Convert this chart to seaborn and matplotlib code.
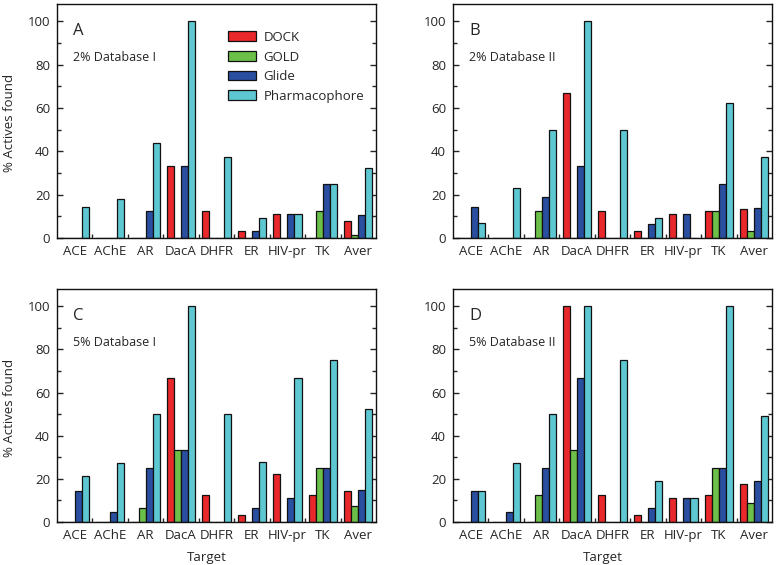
import matplotlib
matplotlib.use("Agg")
import matplotlib.pyplot as plt
import numpy as np
import pandas as pd
import seaborn as sns
from matplotlib.ticker import FixedLocator, MultipleLocator

targets = ["ACE", "AChE", "AR", "DacA", "DHFR", "ER", "HIV-pr", "TK", "Aver"]
methods = ["DOCK", "GOLD", "Glide", "Pharmacophore"]
colors = ["#e8282b", "#6cc04a", "#2a4fa0", "#5ec8d2"]

# panel A: 2% Database I
a_dock = [0, 0, 0, 33.3, 12.5, 3.2, 11.1, 0, 7.9]
a_gold = [0, 0, 0, 0, 0, 0, 0, 12.5, 1.3]
a_glide = [0, 0, 12.5, 33.3, 0, 3.2, 11.1, 25.0, 10.5]
a_pharm = [14.3, 18.2, 44.0, 100, 37.5, 9.1, 11.1, 25.0, 32.3]

# panel B: 2% Database II
b_dock = [0, 0, 0, 66.7, 12.5, 3.2, 11.1, 12.5, 13.2]
b_gold = [0, 0, 12.5, 0, 0, 0, 0, 12.5, 3.1]
b_glide = [14.3, 0, 18.8, 33.3, 0, 6.5, 11.1, 25.0, 13.8]
b_pharm = [7.1, 22.9, 50.0, 100, 50.0, 9.1, 0, 62.5, 37.5]

# panel C: 5% Database I
c_dock = [0, 0, 0, 66.7, 12.5, 3.2, 22.2, 12.5, 14.2]
c_gold = [0, 0, 6.3, 33.3, 0, 0, 0, 25.0, 7.4]
c_glide = [14.3, 4.5, 25.0, 33.3, 0, 6.5, 11.1, 25.0, 14.9]
c_pharm = [21.4, 27.3, 50.0, 100, 50.0, 28.0, 66.7, 75.0, 52.3]

# panel D: 5% Database II
d_dock = [0, 0, 0, 100, 12.5, 3.2, 11.1, 12.5, 17.7]
d_gold = [0, 0, 12.5, 33.3, 0, 0, 0, 25.0, 8.9]
d_glide = [14.3, 4.5, 25.0, 66.7, 0, 6.5, 11.1, 25.0, 19.0]
d_pharm = [14.3, 27.3, 50.0, 100, 75.0, 18.8, 11.1, 100, 49.2]

panels = [
    ("A", "2% Database I", [a_dock, a_gold, a_glide, a_pharm]),
    ("B", "2% Database II", [b_dock, b_gold, b_glide, b_pharm]),
    ("C", "5% Database I", [c_dock, c_gold, c_glide, c_pharm]),
    ("D", "5% Database II", [d_dock, d_gold, d_glide, d_pharm]),
]

sns.set_style("white")
plt.rcParams["font.family"] = ["Open Sans", "DejaVu Sans"]
plt.rcParams["font.size"] = 9.5

W, H = 777, 565
fig = plt.figure(figsize=(W / 100, H / 100), dpi=100)

# axes boxes in pixels: left, top, right, bottom
boxes = [(57, 4, 376, 238), (453, 4, 772, 238),
         (57, 289, 376, 522), (453, 289, 772, 522)]

for (letter, subtitle, series), (x0, y0, x1, y1) in zip(panels, boxes):
    ax = fig.add_axes([x0 / W, 1 - y1 / H, (x1 - x0) / W, (y1 - y0) / H])
    df = pd.DataFrame({
        "Target": [t for _ in methods for t in targets],
        "Method": [m for m in methods for _ in targets],
        "Value": [v for s in series for v in s],
    })
    sns.barplot(data=df, x="Target", y="Value", hue="Method",
                order=targets, hue_order=methods, palette=colors,
                width=0.8, edgecolor="#111111", linewidth=0.9,
                saturation=1, legend=(letter == "A"), ax=ax)

    ax.set_xlim(-0.5, len(targets) - 0.5)
    ax.set_ylim(0, 108)
    ax.yaxis.set_major_locator(MultipleLocator(20))
    ax.yaxis.set_minor_locator(MultipleLocator(10))
    ax.xaxis.set_minor_locator(FixedLocator(np.arange(0.5, len(targets) - 1, 1)))
    ax.tick_params(axis="y", which="both", direction="in", left=True, right=True,
                   labelsize=9.5, pad=5)
    ax.tick_params(axis="y", which="major", length=4, width=1)
    ax.tick_params(axis="y", which="minor", length=3, width=1)
    ax.tick_params(axis="x", which="major", length=0, labelsize=9.5, pad=5)
    ax.tick_params(axis="x", which="minor", direction="in", bottom=True,
                   length=3, width=1)
    for sp in ax.spines.values():
        sp.set_visible(True)
        sp.set_color("#111111")
        sp.set_linewidth(1.0)

    ax.text(0.05, 0.885, letter, transform=ax.transAxes, fontsize=12,
            ha="left", va="center")
    ax.text(0.05, 0.77, subtitle, transform=ax.transAxes, fontsize=9,
            ha="left", va="center")

    if letter in ("A", "C"):
        ax.set_ylabel("% Actives found", fontsize=9.5)
        ax.yaxis.set_label_coords(-0.128, 0.49)
    else:
        ax.set_ylabel("")
    if letter in ("C", "D"):
        ax.set_xlabel("Target", fontsize=9.5)
        ax.xaxis.set_label_coords(0.47, -0.125)
    else:
        ax.set_xlabel("")

    if letter == "A":
        handles, labels = ax.get_legend_handles_labels()
        ax.legend(handles, labels, loc="upper left",
                  bbox_to_anchor=(0.536, 0.885), frameon=False,
                  borderpad=0, borderaxespad=0, handlelength=2.1,
                  handleheight=0.75, labelspacing=0.5, handletextpad=0.6,
                  fontsize=9.5)

fig.savefig("out.png", dpi=100)
